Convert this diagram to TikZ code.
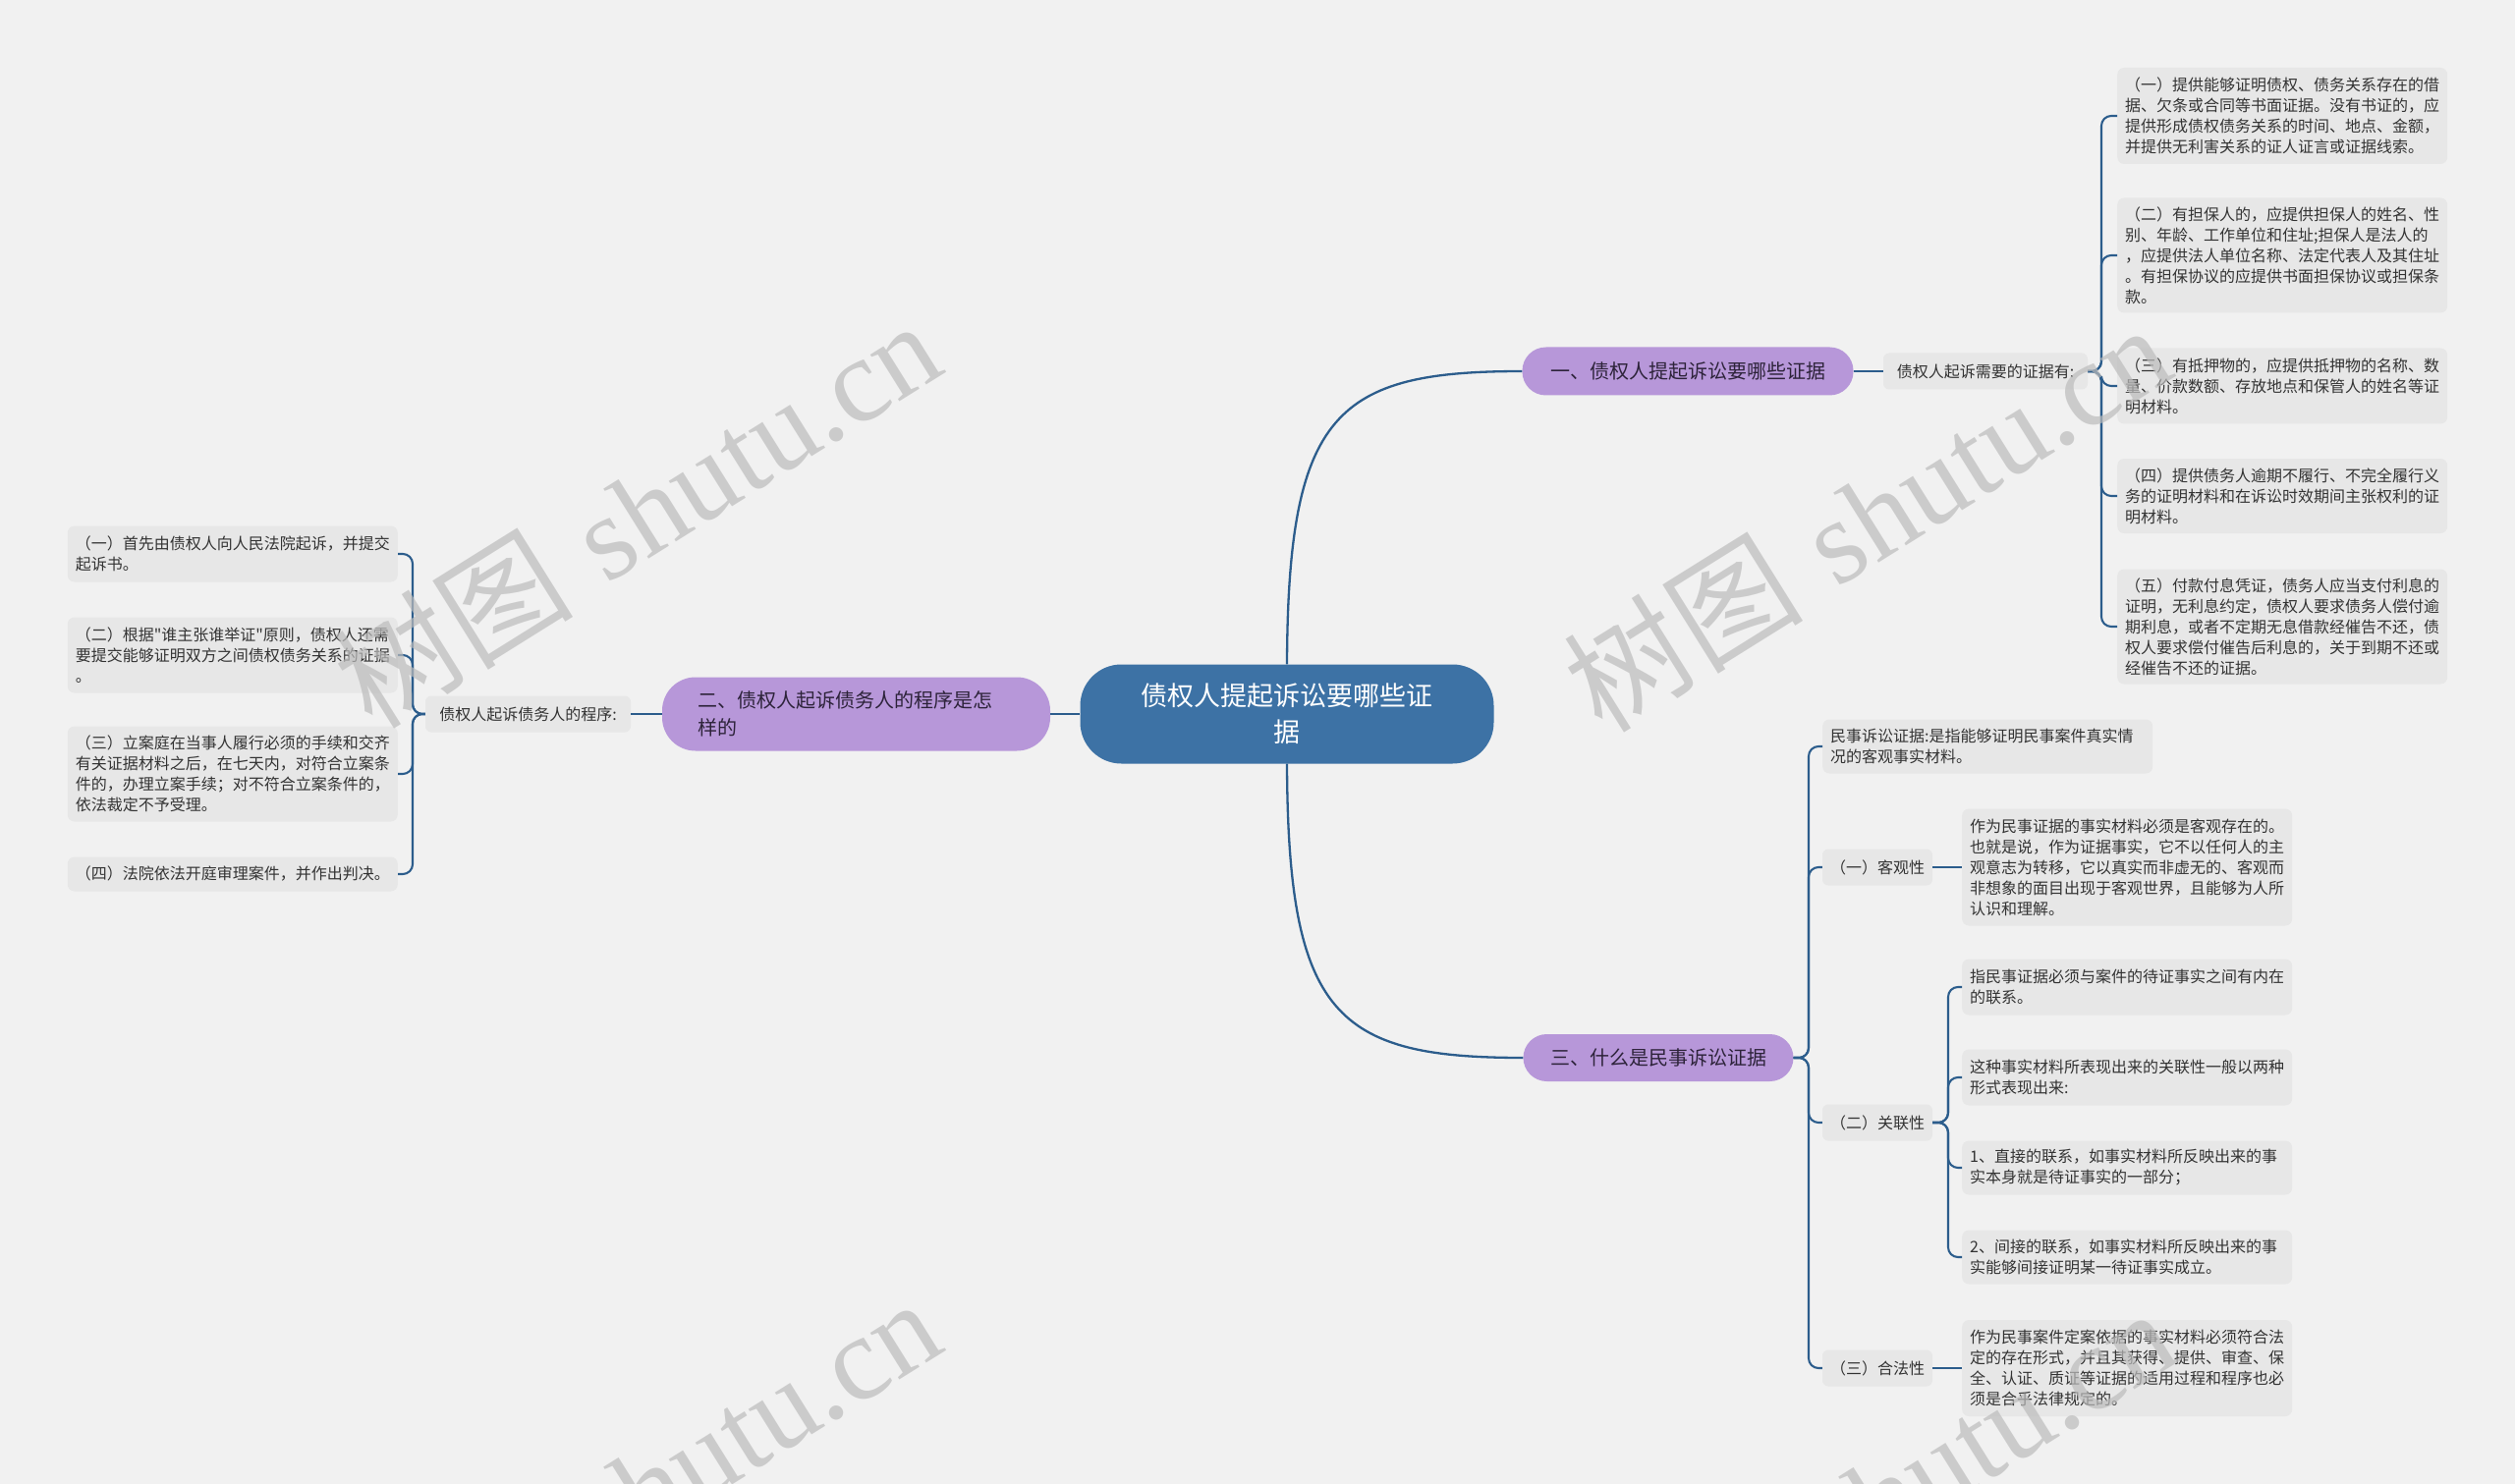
\documentclass[tikz,border=0pt]{standalone}
\usepackage{fontspec}
\newfontfamily\cjk{Noto Sans CJK SC}
\newfontfamily\wmserif{Liberation Serif}
\definecolor{bg}{RGB}{241,241,241}
\definecolor{leafbg}{RGB}{231,231,231}
\definecolor{cblue}{RGB}{61,114,165}
\definecolor{purp}{RGB}{183,151,217}
\definecolor{lnk}{RGB}{44,93,140}
\definecolor{txt}{RGB}{51,51,51}
\definecolor{btxt}{RGB}{45,35,58}
\definecolor{wm}{RGB}{188,188,188}
\begin{document}
\begin{tikzpicture}[x=1pt,y=-1pt,
  leaf/.style={fill=leafbg, rounded corners=7pt, text=txt, font=\cjk\fontsize{16}{21}\selectfont,
    align=left, text width=320pt, inner xsep=8pt, inner ysep=0pt, minimum height=#1, anchor=west},
  lab/.style={fill=leafbg, rounded corners=6pt, text=txt, font=\cjk\fontsize{16}{21}\selectfont,
    minimum width=#1, minimum height=37pt, inner xsep=4pt},
  branch/.style={fill=purp, text=btxt, font=\cjk\fontsize{20}{28}\selectfont, minimum height=49pt,
    rounded corners=24pt, minimum width=#1},
  conn/.style={draw=lnk, line width=2.3pt},
  brk/.style={draw=lnk, line width=2.1pt, rounded corners=10pt},
  wmark/.style={rotate=32, text=wm, opacity=0.7, font=\fontsize{122}{128}\selectfont, inner sep=0pt}
]
\useasboundingbox (0,0) rectangle (2560,1511);
\fill[bg] (0,0) rectangle (2560,1511);

% center
\node[fill=cblue, rounded corners=42pt, minimum width=421pt, minimum height=101pt, text=white,
  font=\cjk\fontsize{27}{37}\selectfont, align=center] (c) at (1310,727) {债权人提起诉讼要哪些证\\据};

% branches
\node[branch=337pt] (b1) at (1718,378) {一、债权人提起诉讼要哪些证据};
\node[branch=275pt, minimum height=48pt] (b3) at (1688,1077) {三、什么是民事诉讼证据};
\node[branch=395pt, minimum height=75pt, rounded corners=34pt, align=left, text width=323pt, inner xsep=36pt] (b2) at (871.5,727) {二、债权人起诉债务人的程序是怎\\样的};

% labels
\node[lab=208pt] (lab1) at (2021,378) {债权人起诉需要的证据有:};
\node[lab=209pt] (lab2) at (537.5,727) {债权人起诉债务人的程序:};
\node[lab=112pt] (k1) at (1911,883) {（一）客观性};
\node[lab=112pt] (k2) at (1911,1143) {（二）关联性};
\node[lab=112pt] (k3) at (1911,1393) {（三）合法性};

% right leaves
\node[leaf=98pt] (r1) at (2155,118) {（一）提供能够证明债权、债务关系存在的借\\据、欠条或合同等书面证据。没有书证的，应\\提供形成债权债务关系的时间、地点、金额，\\并提供无利害关系的证人证言或证据线索。};
\node[leaf=117pt] (r2) at (2155,260) {（二）有担保人的，应提供担保人的姓名、性\\别、年龄、工作单位和住址;担保人是法人的\\，应提供法人单位名称、法定代表人及其住址\\。有担保协议的应提供书面担保协议或担保条\\款。};
\node[leaf=77pt] (r3) at (2155,393) {（三）有抵押物的，应提供抵押物的名称、数\\量、价款数额、存放地点和保管人的姓名等证\\明材料。};
\node[leaf=76pt] (r4) at (2155,505) {（四）提供债务人逾期不履行、不完全履行义\\务的证明材料和在诉讼时效期间主张权利的证\\明材料。};
\node[leaf=117pt] (r5) at (2155,638) {（五）付款付息凭证，债务人应当支付利息的\\证明，无利息约定，债权人要求债务人偿付逾\\期利息，或者不定期无息借款经催告不还，债\\权人要求偿付催告后利息的，关于到期不还或\\经催告不还的证据。};

% left leaves
\node[leaf=57pt, anchor=east] (l1) at (405,564) {（一）首先由债权人向人民法院起诉，并提交\\起诉书。};
\node[leaf=77pt, anchor=east] (l2) at (405,667) {（二）根据"谁主张谁举证"原则，债权人还需\\要提交能够证明双方之间债权债务关系的证据\\。};
\node[leaf=97pt, anchor=east] (l3) at (405,788) {（三）立案庭在当事人履行必须的手续和交齐\\有关证据材料之后，在七天内，对符合立案条\\件的，办理立案手续；对不符合立案条件的，\\依法裁定不予受理。};
\node[leaf=35pt, anchor=east] (l4) at (405,890) {（四）法院依法开庭审理案件，并作出判决。};

% branch 3 leaves
\node[leaf=55pt] (d) at (1855,760) {民事诉讼证据:是指能够证明民事案件真实情\\况的客观事实材料。};
\node[leaf=119pt] (k1t) at (1997,883) {作为民事证据的事实材料必须是客观存在的。\\也就是说，作为证据事实，它不以任何人的主\\观意志为转移，它以真实而非虚无的、客观而\\非想象的面目出现于客观世界，且能够为人所\\认识和理解。};
\node[leaf=57pt] (k2a) at (1997,1005) {指民事证据必须与案件的待证事实之间有内在\\的联系。};
\node[leaf=57pt] (k2b) at (1997,1097) {这种事实材料所表现出来的关联性一般以两种\\形式表现出来:};
\node[leaf=55pt] (k2c) at (1997,1189) {1、直接的联系，如事实材料所反映出来的事\\实本身就是待证事实的一部分；};
\node[leaf=55pt] (k2d) at (1997,1280) {2、间接的联系，如事实材料所反映出来的事\\实能够间接证明某一待证事实成立。};
\node[leaf=98pt] (k3t) at (1997,1393) {作为民事案件定案依据的事实材料必须符合法\\定的存在形式，并且其获得、提供、审查、保\\全、认证、质证等证据的适用过程和程序也必\\须是合乎法律规定的。};

% connectors
\draw[conn] (c.west) -- (b2.east);
\draw[conn] (c.north) .. controls (1311,420) and (1360,378) .. (b1.west);
\draw[conn] (c.south) .. controls (1311,1034) and (1360,1077) .. (b3.west);
\draw[conn] (b1.east) -- (lab1.west);
\draw[conn] (b2.west) -- (lab2.east);
\foreach \n in {r1,r2,r3,r4,r5} \draw[brk] (lab1.east) -- (2139,378) |- (\n.west);
\foreach \n in {l1,l2,l3,l4} \draw[brk] (lab2.west) -- (420,727) |- (\n.east);
\foreach \n in {d,k1,k2,k3} \draw[brk] (b3.east) -- (1841,1077) |- (\n.west);
\foreach \n in {k2a,k2b,k2c,k2d} \draw[brk] (k2.east) -- (1983,1143) |- (\n.west);
\draw[conn] (k1.east) -- (k1t.west);
\draw[conn] (k3.east) -- (k3t.west);

% watermarks
\begin{scope}
\clip (0,0) rectangle (2560,1511);
\node[wmark] (wm1) at (648,522) {{\cjk 树图} {\wmserif shutu.cn}};
\node[wmark] (wm2) at (1900,526) {{\cjk 树图} {\wmserif shutu.cn}};
\node[wmark] (wm3) at (648,1518) {{\cjk 树图} {\wmserif shutu.cn}};
\node[wmark] (wm4) at (1905,1528) {{\cjk 树图} {\wmserif shutu.cn}};
\end{scope}
\end{tikzpicture}
\end{document}
